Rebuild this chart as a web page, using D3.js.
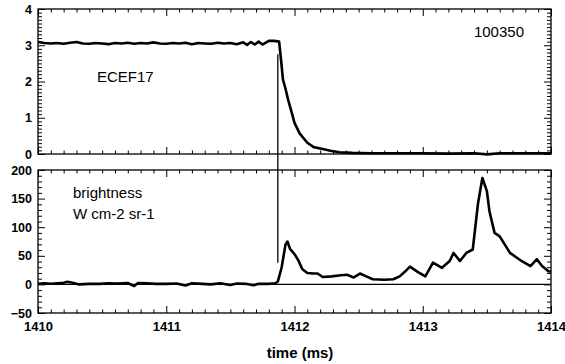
<!DOCTYPE html>
<html><head><meta charset="utf-8">
<script src="https://cdn.jsdelivr.net/npm/d3@7"></script>
<style>
body{margin:0;background:#fff;}
svg{display:block;}
text{font-family:"Liberation Sans",Arial,Helvetica,sans-serif;fill:#000;}
</style></head>
<body><div id="chart"></div>
<script>
// ---- data ----
const xTicks = [1410, 1411, 1412, 1413, 1414];
const topYTicks = [0, 1, 2, 3, 4];
const botYTicks = [-50, 0, 50, 100, 150, 200];

const ecefT = [1410.00,1410.05,1410.10,1410.15,1410.20,1410.25,1410.30,1410.35,1410.40,1410.45,1410.50,1410.55,1410.60,1410.65,1410.70,1410.75,1410.80,1410.85,1410.90,1410.95,1411.00,1411.05,1411.10,1411.15,1411.20,1411.25,1411.30,1411.35,1411.40,1411.45,1411.50,1411.55,1411.60,1411.63,1411.66,1411.69,1411.72,1411.75,1411.78,1411.80,1411.84,1411.88,1411.895,1411.91,1411.93,1411.95,1411.98,1412.00,1412.04,1412.10,1412.15,1412.22,1412.28,1412.35,1412.45,1412.60,1412.80,1413.00,1413.20,1413.40,1413.50,1413.60,1413.80,1414.00];
const ecefV = [3.09,3.06,3.05,3.06,3.04,3.07,3.09,3.05,3.04,3.06,3.05,3.03,3.06,3.05,3.07,3.04,3.06,3.05,3.08,3.05,3.04,3.06,3.05,3.07,3.03,3.06,3.05,3.04,3.07,3.05,3.06,3.03,3.08,3.01,3.09,3.02,3.10,3.02,3.08,3.12,3.12,3.10,2.60,2.05,1.80,1.50,1.12,0.86,0.57,0.31,0.19,0.14,0.09,0.05,0.03,0.02,0.02,0.02,0.01,0.02,-0.01,0.02,0.02,0.02];

const brightT = [1410.00,1410.05,1410.10,1410.15,1410.20,1410.23,1410.27,1410.32,1410.40,1410.48,1410.55,1410.62,1410.70,1410.75,1410.78,1410.85,1410.92,1411.00,1411.08,1411.15,1411.20,1411.28,1411.35,1411.42,1411.50,1411.55,1411.62,1411.68,1411.72,1411.80,1411.85,1411.87,1411.90,1411.93,1411.945,1411.965,1412.00,1412.03,1412.06,1412.10,1412.15,1412.18,1412.22,1412.29,1412.36,1412.41,1412.46,1412.51,1412.56,1412.61,1412.70,1412.77,1412.82,1412.86,1412.90,1412.96,1413.02,1413.08,1413.15,1413.21,1413.24,1413.29,1413.34,1413.39,1413.43,1413.465,1413.50,1413.52,1413.56,1413.60,1413.68,1413.77,1413.84,1413.89,1413.93,1413.98,1414.00];
const brightV = [1,2,1,2,3,4.5,3,0,1,1,2,1.5,2.5,-3,2.5,2,1,1,1.5,-2,2,1,0,2,-1,1.5,1,-1.5,1,1,2,5,30,70,75,62,53,42,27,20,19,19,13,14,16,17,12,19,14,9,8,9,14,22,31,22,14,38,29,41,55,41,55,61,140,186,163,128,90,84,55,41,32,44,32,23,22];

const markerT = 1411.87;

// ---- layout ----
const W = 565, H = 364;
const L = 38, R = 551;
const topP = {y0: 9, y1: 154};
const botP = {y0: 170, y1: 313};

const svg = d3.select("#chart").append("svg").attr("width", W).attr("height", H);

const x = d3.scaleLinear().domain([1410, 1414]).range([L, R]);
const yT = d3.scaleLinear().domain([0, 4]).range([topP.y1, topP.y0]);
const yB = d3.scaleLinear().domain([-50, 200]).range([botP.y1, botP.y0]);

const xMinor = d3.range(14100, 14141, 1).map(d => d / 10).filter(d => Math.abs(d - Math.round(d)) > 1e-6);
const yTMinor = d3.range(0, 41).map(d => d / 10).filter(d => d % 1 !== 0);
const yBMinor = d3.range(-50, 201, 10).filter(d => d % 50 !== 0);

function styleAxis(g){
  g.select(".domain").remove();
  g.selectAll(".tick line").attr("stroke", "#000").attr("stroke-width", 1);
}

function panel(y, yTicks, yMinor, p, labelX){
  // left axis
  svg.append("g").attr("transform", `translate(${L},0)`)
    .call(d3.axisLeft(y).tickValues(yTicks).tickSize(-7).tickPadding(6).tickFormat(d => d < 0 ? "\u2212" + Math.abs(d) : d))
    .call(styleAxis)
    .call(g => g.selectAll("text").attr("font-size", 12.5).attr("font-weight", "bold").attr("font-family", '"Liberation Sans",Arial,sans-serif'));
  svg.append("g").attr("transform", `translate(${L},0)`)
    .call(d3.axisLeft(y).tickValues(yMinor).tickSize(-4).tickFormat(""))
    .call(styleAxis);
  // right axis
  svg.append("g").attr("transform", `translate(${R},0)`)
    .call(d3.axisRight(y).tickValues(yTicks).tickSize(-7).tickFormat(""))
    .call(styleAxis);
  svg.append("g").attr("transform", `translate(${R},0)`)
    .call(d3.axisRight(y).tickValues(yMinor).tickSize(-4).tickFormat(""))
    .call(styleAxis);
  // top x axis
  svg.append("g").attr("transform", `translate(0,${p.y0})`)
    .call(d3.axisTop(x).tickValues(xTicks).tickSize(-7).tickFormat(""))
    .call(styleAxis);
  svg.append("g").attr("transform", `translate(0,${p.y0})`)
    .call(d3.axisTop(x).tickValues(xMinor).tickSize(-3.5).tickFormat(""))
    .call(styleAxis);
  // bottom x axis
  const bx = svg.append("g").attr("transform", `translate(0,${p.y1})`)
    .call(d3.axisBottom(x).tickValues(xTicks).tickSize(-7).tickPadding(9).tickFormat(labelX ? d3.format("d") : ""))
    .call(styleAxis)
    .call(g => g.selectAll("text").attr("font-size", 13).attr("font-weight", "bold").attr("font-family", '"Liberation Sans",Arial,sans-serif'));
  svg.append("g").attr("transform", `translate(0,${p.y1})`)
    .call(d3.axisBottom(x).tickValues(xMinor).tickSize(-3.5).tickFormat(""))
    .call(styleAxis);
  // frame
  svg.append("rect").attr("x", L).attr("y", p.y0).attr("width", R - L).attr("height", p.y1 - p.y0)
    .attr("fill", "none").attr("stroke", "#000").attr("stroke-width", 1.3);
}

panel(yT, topYTicks, yTMinor, topP, false);
panel(yB, botYTicks, yBMinor, botP, true);

// zero line in bottom panel
svg.append("line").attr("x1", x(1410)).attr("x2", x(1414)).attr("y1", yB(0)).attr("y2", yB(0))
  .attr("stroke", "#000").attr("stroke-width", 1.2);

// curves
const ecef = ecefT.map((t, i) => [t, ecefV[i]]);
const bright = brightT.map((t, i) => [t, brightV[i]]);
svg.append("path").datum(ecef)
  .attr("d", d3.line().x(d => x(d[0])).y(d => yT(d[1])))
  .attr("fill", "none").attr("stroke", "#000").attr("stroke-width", 2.6).attr("stroke-linejoin", "round");
svg.append("path").datum(bright)
  .attr("d", d3.line().x(d => x(d[0])).y(d => yB(d[1])))
  .attr("fill", "none").attr("stroke", "#000").attr("stroke-width", 2.6).attr("stroke-linejoin", "round");

// vertical marker
svg.append("line").attr("x1", x(markerT)).attr("x2", x(markerT)).attr("y1", yT(2.75)).attr("y2", yB(38))
  .attr("stroke", "#000").attr("stroke-width", 1.3);

// annotations
svg.append("text").attr("x", 97).attr("y", 82).attr("font-size", 15).text("ECEF17");
svg.append("text").attr("x", 524).attr("y", 37).attr("font-size", 15).attr("text-anchor", "end").text("100350");
svg.append("text").attr("x", 73).attr("y", 198).attr("font-size", 15).text("brightness");
svg.append("text").attr("x", 73).attr("y", 219).attr("font-size", 15).text("W cm-2 sr-1");
svg.append("text").attr("x", 300).attr("y", 358).attr("font-size", 15).attr("font-weight", "bold").attr("text-anchor", "middle").text("time (ms)");
</script></body></html>
